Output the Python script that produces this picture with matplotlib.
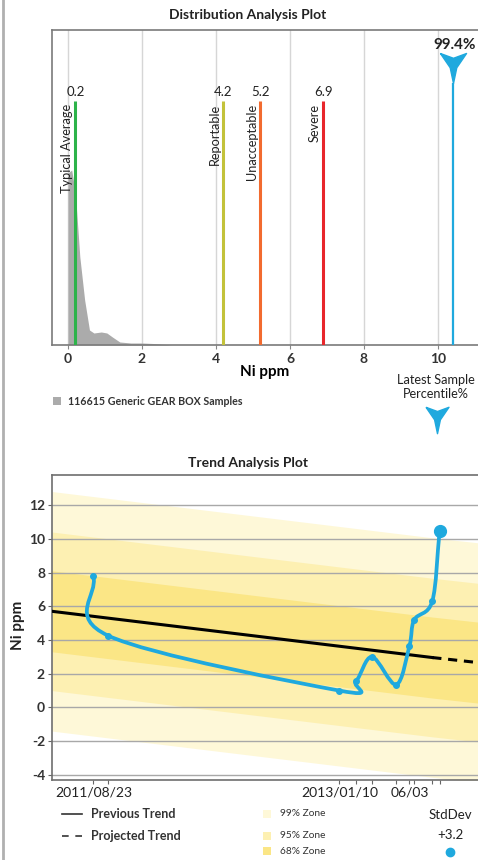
import numpy as np
import matplotlib
matplotlib.use("Agg")
import matplotlib.pyplot as plt
import matplotlib.dates as mdates
from matplotlib.path import Path
from matplotlib.patches import PathPatch, Rectangle
from matplotlib.lines import Line2D

plt.rcParams['font.family'] = ['Lato', 'DejaVu Sans']

# ---- distribution plot data ----
dens_x = [0.0, 0.1, 0.2, 0.32, 0.45, 0.58, 0.7, 0.9, 1.05, 1.2, 1.4, 1.7, 2.0, 2.3, 2.8]
dens_y = [172, 175, 152, 88, 45, 15, 12, 13, 12, 8, 3, 2, 2, 1.5, 0]
limit_vals = [0.2, 4.2, 5.2, 6.9]
limit_names = ['Typical Average', 'Reportable', 'Unacceptable', 'Severe']
limit_colors = ['#2db34a', '#c3c23a', '#f26b2f', '#e8262b']
latest_val = 10.4
latest_pct = '99.4%'
sample_count = 116615
dist_ticks = [0, 2, 4, 6, 8, 10]

# ---- trend plot data ----
sample_dates = np.array(['2011-08-23', '2011-09-23', '2013-01-10', '2013-02-13',
                         '2013-03-18', '2013-05-07', '2013-06-03', '2013-06-13',
                         '2013-07-20', '2013-08-04'], dtype='datetime64[D]')
sample_vals = [7.8, 4.25, 1.0, 1.55, 3.0, 1.35, 3.65, 5.2, 6.3, 10.45]
tick_labels = ['2011/08/23', '', '2013/01/10', '', '', '', '06/03', '', '', '']
trend_dates = np.array(['2011-05-30', '2013-07-20', '2013-10-22'], dtype='datetime64[D]')
trend_vals = np.array([5.7, 2.96, 2.66])
zone_names = ['99% Zone', '95% Zone', '68% Zone']
zone_width = [7.1, 4.7, 2.4]
zone_colors = ['#fef8d8', '#fdf0b2', '#fbe686']
std_dev = '+3.2'

W, H = 478, 860
blue = '#1fa9de'


def fx(px):
    return px / W


def fy(py):
    return 1 - py / H


fig = plt.figure(figsize=(W / 100, H / 100), dpi=100)
fig.add_artist(Line2D([fx(3), fx(3)], [0, 1], color='#b0b0b0', lw=2))

# ================= Distribution Analysis Plot =================
ax1 = fig.add_axes([fx(52), fy(345), fx(478 - 52), 315 / H])
ax1.set_xlim((52 - 68) / 37, (478 - 68) / 37)
ax1.set_ylim(0, 315)
ax1.fill_between(dens_x, dens_y, color='#ababab', lw=0, zorder=2)
for v, name, c in zip(limit_vals, limit_names, limit_colors):
    ax1.vlines(v, 0, 244, color=c, lw=2.2, zorder=3)
    ax1.text(v, 253, f"{v}", ha='center', va='center', fontsize=9.5, color='#222')
    ax1.annotate(name, (v, 241), xytext=(-2, 0), textcoords='offset points',
                 rotation=90, ha='right', va='top', fontsize=9.2, color='#222', zorder=4)
ax1.vlines(latest_val, 0, 262, color=blue, lw=1.6, zorder=3)
chevron = [(-0.87, 1), (0, 0.68), (0.87, 1), (0.22, 0.05), (0, -1), (-0.22, 0.05), (-0.87, 1)]
ax1.plot([latest_val], [277], marker=chevron, ms=21.6, color=blue, mec=blue, zorder=4, clip_on=False)
ax1.text(latest_val + 0.05, 300, latest_pct, ha='center', va='center', fontsize=11,
         fontweight='bold', color='#222')
ax1.set_xticks(dist_ticks)
ax1.set_xticklabels([str(t) for t in dist_ticks], fontsize=10, fontweight='bold', color='#333')
ax1.set_yticks([])
ax1.tick_params(axis='x', length=3, color='#888', pad=3)
ax1.grid(axis='x', color='#d6d6d6', lw=1)
for s in ['left', 'top', 'bottom']:
    ax1.spines[s].set_color('#7a7a7a')
    ax1.spines[s].set_linewidth(1.2)
ax1.spines['right'].set_visible(False)
ax1.set_xlabel('Ni ppm', fontsize=11, fontweight='bold', labelpad=0)
fig.text(fx(248), fy(15), 'Distribution Analysis Plot', ha='center', va='center',
         fontsize=10, fontweight='bold', color='#222')

fig.add_artist(Rectangle((fx(53), fy(405)), fx(8), 8 / H, color='#ababab', lw=0))
fig.text(fx(68), fy(401), f'{sample_count} Generic GEAR BOX Samples', ha='left', va='center',
         fontsize=7.7, fontweight='bold', color='#333')
fig.text(fx(436), fy(387), 'Latest Sample\nPercentile%', ha='center', va='center',
         fontsize=9.2, color='#222', linespacing=1.15)
fig.add_artist(Line2D([fx(437)], [fy(420)], marker=chevron, ms=19, color=blue, mec=blue))

# ================= Trend Analysis Plot =================
ax2 = fig.add_axes([fx(52), fy(780), fx(478 - 52), 305 / H])
for w, c in zip(zone_width, zone_colors):
    ax2.fill_between(trend_dates, trend_vals - w, trend_vals + w, color=c, lw=0, zorder=0)
ax2.plot(trend_dates[:2], trend_vals[:2], color='black', lw=2.2, zorder=3)
ax2.plot(trend_dates[1:], trend_vals[1:], color='black', lw=2.2, ls=(0, (3, 2.2)), zorder=3)

# smoothed curve through the samples
pts = np.column_stack([mdates.date2num(sample_dates), sample_vals])
tang = np.zeros_like(pts)
tang[1:-1] = (pts[2:] - pts[:-2]) / 2
tang[0] = pts[1] - pts[0]
tang[-1] = pts[-1] - pts[-2]
verts = [pts[0]]
codes = [Path.MOVETO]
for i in range(len(pts) - 1):
    verts += [pts[i] + tang[i] / 3, pts[i + 1] - tang[i + 1] / 3, pts[i + 1]]
    codes += [Path.CURVE4] * 3
ax2.add_patch(PathPatch(Path(verts, codes), fill=False, ec=blue, lw=2.7, zorder=4,
                        capstyle='round', joinstyle='round'))
ax2.plot(sample_dates[:-1], sample_vals[:-1], 'o', ms=4, color=blue, zorder=5)
ax2.plot(sample_dates[-1:], sample_vals[-1:], 'o', ms=8.5, color=blue, zorder=5)

ax2.set_xlim(trend_dates[0], trend_dates[-1])
ax2.set_ylim(-4.3, 13.78)
ax2.set_yticks(range(-4, 13, 2))
ax2.set_yticklabels([str(t) for t in range(-4, 13, 2)], fontsize=10, fontweight='bold', color='#333')
ax2.set_xticks(sample_dates)
ax2.set_xticklabels(tick_labels, fontsize=10, color='#222')
ax2.tick_params(axis='both', length=3, color='#666', pad=2)
ax2.grid(axis='y', color='#a8a8a8', lw=1)
for s in ['left', 'top', 'bottom']:
    ax2.spines[s].set_color('#6e6e6e')
    ax2.spines[s].set_linewidth(1.2)
ax2.spines['right'].set_visible(False)
fig.text(fx(18), fy(625), 'Ni ppm', rotation=90, ha='center', va='center',
         fontsize=11, fontweight='bold', color='#222')
fig.text(fx(248), fy(463), 'Trend Analysis Plot', ha='center', va='center',
         fontsize=10, fontweight='bold', color='#222')

# legend below the trend plot
fig.add_artist(Line2D([fx(62), fx(82)], [fy(814), fy(814)], color='#333', lw=1.2))
fig.add_artist(Line2D([fx(62), fx(84)], [fy(836), fy(836)], color='#333', lw=1.2, ls=(0, (4, 4))))
fig.text(fx(91), fy(814), 'Previous Trend', ha='left', va='center', fontsize=9,
         fontweight='bold', color='#333')
fig.text(fx(91), fy(836), 'Projected Trend', ha='left', va='center', fontsize=9,
         fontweight='bold', color='#333')
for (name, c), py in zip(zip(zone_names, zone_colors), [814, 836, 851]):
    fig.add_artist(Rectangle((fx(263), fy(py + 4)), fx(8), 8 / H, color=c, lw=0))
    fig.text(fx(280), fy(py), name, ha='left', va='center', fontsize=7.3, color='#333')
fig.text(fx(450), fy(815), 'StdDev', ha='center', va='center', fontsize=9.5, color='#222')
fig.text(fx(450), fy(835), std_dev, ha='center', va='center', fontsize=9.5, color='#222')
fig.add_artist(Line2D([fx(450)], [fy(852)], marker='o', ms=6, color=blue))

fig.savefig('out.png', dpi=100)
